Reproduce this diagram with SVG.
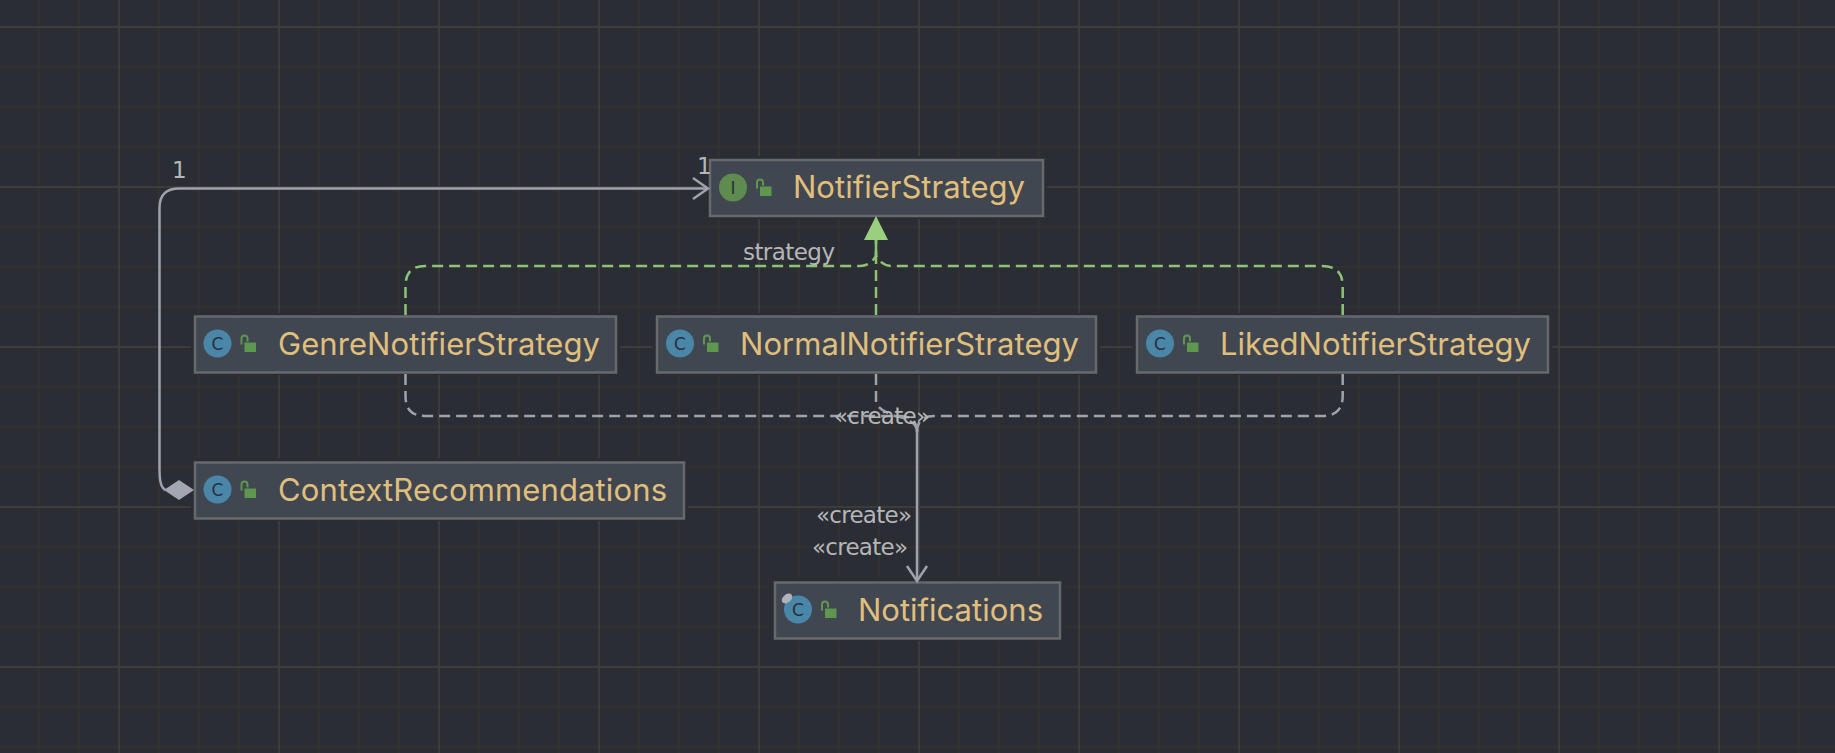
<svg xmlns="http://www.w3.org/2000/svg" width="1835" height="753" viewBox="0 0 1835 753">
<style>
.halo{fill:#2a2d34}
.box{fill:#414751;stroke:#666a6d;stroke-width:2.500}
.name{font-family:Inter,"Liberation Sans",sans-serif;font-size:31px;fill:#e0bf7c}
.lbl{font-family:"DejaVu Sans","Liberation Sans",sans-serif;font-size:23px;fill:#b5b6b8}
.ic{font-family:"DejaVu Sans",sans-serif;font-size:17px;fill:#27303b;text-anchor:middle}
.dg{fill:none;stroke:#8dc377;stroke-width:2.500;stroke-dasharray:11 6}
.dw{fill:none;stroke:#9da2ad;stroke-width:2.500;stroke-dasharray:11 6}
.sol{fill:none;stroke:#9da2ad;stroke-width:2.500}
</style>
<defs>
<pattern id="grid" patternUnits="userSpaceOnUse" x="118" y="26" width="160" height="160">
<path d="M40 0h2v160h-2zM80 0h2v160h-2zM120 0h2v160h-2zM0 40h160v2H0zM0 80h160v2H0zM0 120h160v2H0z" fill="#323130"/>
<path d="M0 0h2v160H0zM0 0h160v2H0z" fill="#3c3c3b"/>
</pattern>
<g id="lock">
<rect x="27" y="-1" width="11.500" height="9.500" fill="#5f9650"/>
<path d="M24 1V-5Q24-8 27-8Q30-8 30-5V-2" fill="none" stroke="#5f9650" stroke-width="2"/>
</g>
<g id="cls">
<circle r="14" fill="#4a86a8"/>
<text class="ic" y="6">C</text>
<use href="#lock"/>
</g>
</defs>
<rect width="1835" height="753" fill="#2a2d34"/>
<rect width="1835" height="753" fill="url(#grid)"/>
<g id="NotifierStrategy">
<rect class="halo" x="706" y="156" width="341" height="63"/>
<rect class="box" x="710" y="160" width="333" height="56"/>
<circle cx="733" cy="187.500" r="14" fill="#5f8c4e"/>
<text class="ic" x="733" y="193.500" font-family="Liberation Serif">I</text>
<use href="#lock" x="733" y="187.500"/>
<text class="name" x="793" y="198" textLength="232">NotifierStrategy</text>
</g>
<g id="GenreNotifierStrategy">
<rect class="halo" x="191" y="313" width="429" height="62"/>
<rect class="box" x="195" y="316.500" width="421" height="56"/>
<use href="#cls" x="217.500" y="343.500"/>
<text class="name" x="278" y="355" textLength="322">GenreNotifierStrategy</text>
</g>
<g id="NormalNotifierStrategy">
<rect class="halo" x="653" y="313" width="447" height="62"/>
<rect class="box" x="657" y="316.500" width="439" height="56"/>
<use href="#cls" x="680" y="343.500"/>
<text class="name" x="740" y="355" textLength="339">NormalNotifierStrategy</text>
</g>
<g id="LikedNotifierStrategy">
<rect class="halo" x="1133" y="313" width="419" height="62"/>
<rect class="box" x="1137" y="316.500" width="411" height="56"/>
<use href="#cls" x="1160" y="343.500"/>
<text class="name" x="1220" y="355" textLength="311">LikedNotifierStrategy</text>
</g>
<g id="ContextRecommendations">
<rect class="halo" x="191" y="458" width="497" height="63"/>
<rect class="box" x="195" y="462.500" width="489" height="56"/>
<use href="#cls" x="217.500" y="489.500"/>
<text class="name" x="278" y="501" textLength="389">ContextRecommendations</text>
</g>
<g id="Notifications">
<rect class="halo" x="771" y="578" width="293" height="63"/>
<rect class="box" x="775" y="582.500" width="285" height="56"/>
<use href="#cls" x="798" y="609.500"/>
<ellipse cx="787" cy="598.500" rx="6" ry="4" transform="rotate(-40 787 598.500)" fill="#aeb2ba"/>
<text class="name" x="858" y="621" textLength="185">Notifications</text>
</g>
<g id="connectors">
<path class="sol" d="M165 490L163 488Q159.500 484 159.500 470V208Q159.500 188.500 179 188.500H708"/>
<path class="sol" d="M693 178L708 188.500L693 199"/>
<path d="M164 490L179 480L194 490L179 500Z" fill="#a3a7b2"/>
<path class="dg" d="M405.500 315V286Q405.500 266 425 266H860Q870 266 876 256V240"/>
<path class="dg" d="M1342.700 315V286Q1342.700 266 1322 266H892Q882 266 876 256V240"/>
<path class="dg" d="M876 315V240"/>
<path d="M876 216L888 240H864Z" fill="#99cf7f"/>
<path class="dw" d="M405.500 374V396Q405.500 416 425 416H900Q917 416 917 432"/>
<path class="dw" d="M1342.700 374V396Q1342.700 416 1322 416H934Q917 416 917 432"/>
<path class="dw" d="M876 374V402Q878 410 895 416Q917 420 917 432"/>
<path class="sol" d="M917 430V581"/>
<path class="sol" d="M907 566L917 581L927 566"/>
<text class="lbl" x="172" y="178">1</text>
<text class="lbl" x="697" y="174">1</text>
<text class="lbl" x="743" y="260" textLength="92">strategy</text>
<text class="lbl" x="834" y="424" textLength="96">«create»</text>
<text class="lbl" x="816" y="523" textLength="96">«create»</text>
<text class="lbl" x="812" y="555" textLength="96">«create»</text>
</g>
</svg>
